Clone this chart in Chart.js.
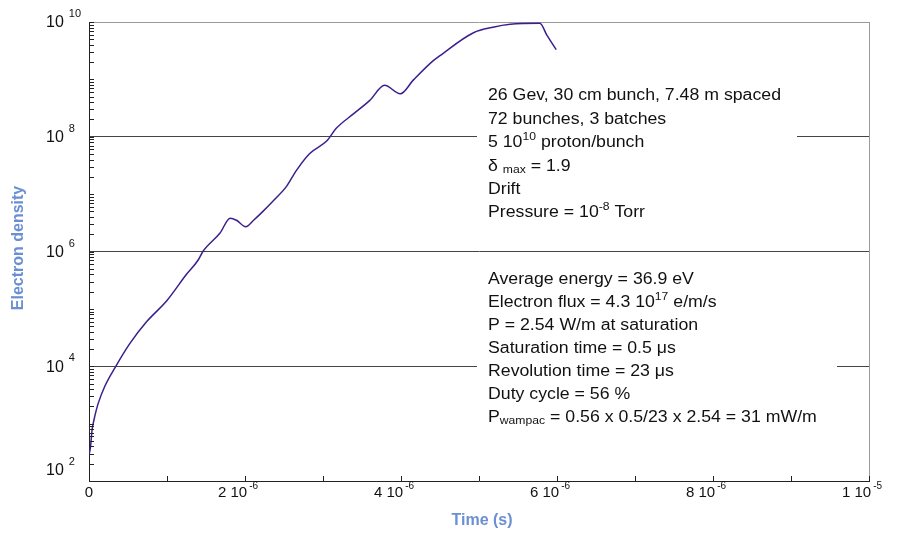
<!DOCTYPE html>
<html>
<head>
<meta charset="utf-8">
<script src="https://cdn.jsdelivr.net/npm/chart.js@4.4.1/dist/chart.umd.min.js"></script>
<style>html,body{margin:0;padding:0;background:#fff}canvas{display:block}</style>
</head>
<body>
<canvas id="chart" width="901" height="533"></canvas>
<script>
// electron density build-up vs time
const times=[0,0.02e-6,0.04e-6,0.06e-6,0.09e-6,0.12e-6,0.2e-6,0.34e-6,0.525e-6,0.74e-6,1.0e-6,1.25e-6,1.4e-6,1.46e-6,1.68e-6,
  1.81e-6,1.89e-6,2.01e-6,2.11e-6,2.23e-6,2.36e-6,2.53e-6,2.66e-6,2.83e-6,3.05e-6,3.17e-6,3.39e-6,3.6e-6,3.79e-6,3.99e-6,
  4.16e-6,4.41e-6,4.5e-6,4.93e-6,5.18e-6,5.4e-6,5.78e-6,5.87e-6,5.99e-6];
const density=[280,400,790,1.1e3,1.65e3,2.3e3,4.4e3,9.8e3,2.5e4,6.0e4,1.4e5,4.0e5,7.1e5,1.0e6,2.1e6,
  3.8e6,3.5e6,2.7e6,3.5e6,5.0e6,7.6e6,1.35e7,2.6e7,5.1e7,8.5e7,1.4e8,2.5e8,4.3e8,7.9e8,5.6e8,
  9.8e8,2.1e9,2.6e9,6.5e9,8.1e9,9.1e9,9.5e9,5.9e9,3.3e9];

const xTickVals=[0,2e-6,4e-6,6e-6,8e-6,1e-5];
const xTickBase=['0','2 10','4 10','6 10','8 10','1 10'];
const xTickExp=['','-6','-6','-6','-6','-5'];
const yTickVals=[1e2,1e4,1e6,1e8,1e10];
const yTickExp=['2','4','6','8','10'];

const noteTop=[
  [['26 Gev, 30 cm bunch, 7.48 m spaced']],
  [['72 bunches, 3 batches']],
  [['5 10'],['10','sup'],[' proton/bunch']],
  [['\u03b4 '],['max','sub'],[' = 1.9']],
  [['Drift']],
  [['Pressure = 10'],['-8','sup'],[' Torr']]
];
const noteBottom=[
  [['Average energy = 36.9 eV']],
  [['Electron flux = 4.3 10'],['17','sup'],[' e/m/s']],
  [['P = 2.54 W/m at saturation']],
  [['Saturation time = 0.5 \u03bcs']],
  [['Revolution time = 23 \u03bcs']],
  [['Duty cycle = 56 %']],
  [['P'],['wampac','sub'],[' = 0.56 x 0.5/23 x 2.54 = 31 mW/m']]
];

const FONT='"Liberation Sans", Arial, Helvetica, sans-serif';
const TITLE_BLUE='#6b8fd3';

function richLine(ctx,segs,x,y,size){
  let cx=x;
  segs.forEach(([t,m])=>{
    const fs=m?Math.round(size*0.68):size;
    ctx.font=fs+'px '+FONT;
    const dy=m==='sup'?-size*0.36:(m==='sub'?size*0.24:0);
    ctx.fillText(t,cx,y+dy);
    cx+=ctx.measureText(t).width;
  });
}

const decor={
  id:'decor',
  afterDatasetsDraw(chart){
    const {ctx,chartArea:a,scales:{x,y}}=chart;
    ctx.save();
    // inward tick marks
    ctx.strokeStyle='#222';ctx.lineWidth=1;
    ctx.beginPath();
    y.ticks.forEach(t=>{
      const e=Math.floor(Math.log10(t.value)+1e-9);
      const m=t.value/Math.pow(10,e);
      if(Math.abs(m-1.5)<0.01) return;
      const py=Math.round(y.getPixelForValue(t.value))+0.5;
      ctx.moveTo(a.left,py);ctx.lineTo(a.left+5,py);
    });
    x.ticks.forEach(t=>{
      const px=Math.round(x.getPixelForValue(t.value))+0.5;
      ctx.moveTo(px,a.bottom);ctx.lineTo(px,a.bottom-5);
    });
    ctx.stroke();

    // note boxes (white, hide the grid lines)
    ctx.fillStyle='#fff';
    ctx.fillRect(477,80,320,150);
    ctx.fillRect(477,264,360,168);

    ctx.fillStyle='#111';
    ctx.textAlign='left';ctx.textBaseline='middle';
    ctx.font='16px '+FONT;
    const sx=293/ctx.measureText(noteTop[0][0][0]).width;
    ctx.save();ctx.translate(488,0);ctx.scale(sx,1);
    noteTop.forEach((segs,i)=>richLine(ctx,segs,0,96+i*23.4,16));
    noteBottom.forEach((segs,i)=>richLine(ctx,segs,0,280+i*22.9,16));
    ctx.restore();

    // y tick labels
    yTickVals.forEach((v,i)=>{
      let py=y.getPixelForValue(v);
      if(py>a.bottom-12) py=a.bottom-11;
      ctx.font='16px '+FONT;ctx.textAlign='left';
      ctx.fillText('10',46,py+1);
      const w=ctx.measureText('10').width;
      ctx.font='11px '+FONT;
      ctx.fillText(yTickExp[i],46+w+5,py-8);
    });

    // x tick labels
    xTickVals.forEach((v,i)=>{
      const px=x.getPixelForValue(v);
      ctx.font='15px '+FONT;
      const wb=ctx.measureText(xTickBase[i]).width;
      ctx.font='10px '+FONT;
      const we=xTickExp[i]?ctx.measureText(xTickExp[i]).width+2:0;
      const left=px-(xTickExp[i]?7:0)-(wb+we)/2;
      ctx.textAlign='left';
      ctx.font='15px '+FONT;
      ctx.fillText(xTickBase[i],left,a.bottom+12);
      if(xTickExp[i]){ctx.font='10px '+FONT;ctx.fillText(xTickExp[i],left+wb+2,a.bottom+5);}
    });

    // axis titles
    ctx.fillStyle=TITLE_BLUE;
    ctx.font='bold 16px '+FONT;ctx.textAlign='center';
    ctx.fillText('Time (s)',482,521);
    ctx.translate(19,248);ctx.rotate(-Math.PI/2);
    ctx.fillText('Electron density',0,0);
    ctx.restore();
  }
};

new Chart(document.getElementById('chart').getContext('2d'),{
  type:'line',
  data:{
    datasets:[{
      data:times.map((t,i)=>({x:t,y:density[i]})),
      borderColor:'#3c1f8c',borderWidth:1.5,
      pointRadius:0,cubicInterpolationMode:'monotone',fill:false
    }]
  },
  options:{
    responsive:false,animation:false,devicePixelRatio:1,
    layout:{padding:{left:89,right:32,top:22,bottom:52}},
    plugins:{legend:{display:false},tooltip:{enabled:false}},
    scales:{
      x:{type:'linear',min:0,max:1e-5,
        ticks:{display:false,stepSize:1e-6},
        grid:{drawTicks:false,color:c=>(c.tick&&c.tick.value>0.99e-5)?'#9a9a9a':'rgba(0,0,0,0)'},
        border:{color:'#222',width:1}},
      y:{type:'logarithmic',min:1e2,max:1e10,
        ticks:{display:false,autoSkip:false},
        grid:{drawTicks:false,color:c=>{
          if(!c.tick) return 'rgba(0,0,0,0)';
          const l=Math.log10(c.tick.value);
          if(l>9.99) return '#9a9a9a';
          if([4,6,8].some(k=>Math.abs(l-k)<1e-6)) return '#444';
          return 'rgba(0,0,0,0)';
        }},
        border:{color:'#222',width:1}}
    }
  },
  plugins:[decor]
});
</script>
</body>
</html>
